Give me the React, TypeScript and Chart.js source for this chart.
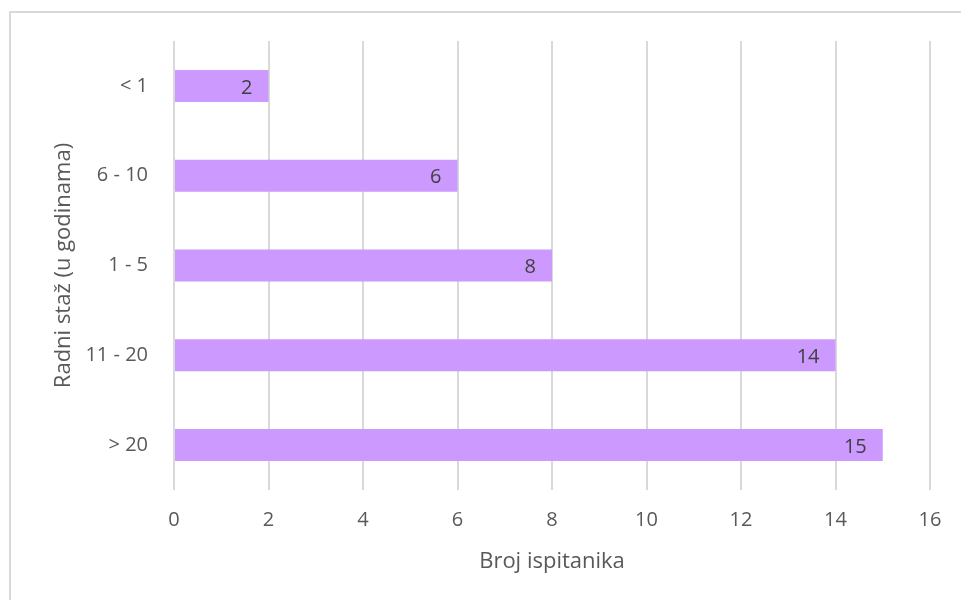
import React, { useEffect, useRef } from "react";
import { Chart, registerables } from "chart.js";

Chart.register(...registerables);

const categories = ["< 1", "6 - 10", "1 - 5", "11 - 20", "> 20"];
const values = [2, 6, 8, 14, 15];
const xTitle = "Broj ispitanika";
const yTitle = "Radni staž (u godinama)";

const FONT = "'Open Sans', 'Noto Sans', sans-serif";

const valueLabels = {
  id: "valueLabels",
  afterDatasetsDraw(chart: any) {
    const ctx = chart.ctx;
    const meta = chart.getDatasetMeta(0);
    ctx.save();
    ctx.fillStyle = "#404040";
    ctx.font = `20px ${FONT}`;
    ctx.textAlign = "right";
    ctx.textBaseline = "middle";
    meta.data.forEach((el: any, i: number) => {
      ctx.fillText(String(values[i]), el.x - 16, el.y + 2);
    });
    ctx.restore();
  },
};

export default function App() {
  const ref = useRef<HTMLCanvasElement>(null);
  useEffect(() => {
    if (!ref.current) return;
    const chart = new Chart(ref.current, {
      type: "bar",
      data: {
        labels: categories,
        datasets: [
          {
            data: values,
            backgroundColor: "#CC99FF",
            borderWidth: 0,
            categoryPercentage: 1,
            barPercentage: 0.356,
          },
        ],
      },
      options: {
        indexAxis: "y",
        responsive: false,
        animation: false,
        maintainAspectRatio: false,
        layout: { padding: { left: 0, top: 41, right: 31, bottom: 0 } },
        plugins: { legend: { display: false }, tooltip: { enabled: false } },
        scales: {
          x: {
            min: 0,
            max: 16,
            ticks: {
              stepSize: 2,
              color: "#595959",
              font: { family: FONT, size: 20 },
              padding: 18,
            },
            grid: { color: "#d9d9d9", lineWidth: 2, drawTicks: false },
            border: { display: false },
            title: {
              display: true,
              text: xTitle,
              color: "#595959",
              font: { family: FONT, size: 22 },
              padding: { top: 0, bottom: 25 },
            },
            afterFit(scale: any) {
              scale.height = 110;
            },
          },
          y: {
            ticks: {
              color: "#595959",
              font: { family: FONT, size: 20 },
              padding: 26,
            },
            grid: { display: false, drawTicks: false },
            border: { display: false },
            title: {
              display: true,
              text: yTitle,
              color: "#595959",
              font: { family: FONT, size: 22 },
              padding: { top: 51, bottom: 0 },
            },
            afterFit(scale: any) {
              scale.width = 174;
            },
          },
        },
      },
      plugins: [valueLabels],
    } as any);
    return () => chart.destroy();
  }, []);

  return (
    <div
      style={{
        position: "fixed",
        left: 0,
        top: 0,
        width: 961,
        height: 600,
        background: "#fff",
        overflow: "hidden",
      }}
    >
      <div
        style={{
          position: "absolute",
          left: 9,
          top: 11,
          width: 1200,
          height: 1200,
          border: "2px solid #d9d9d9",
          boxSizing: "border-box",
        }}
      />
      <canvas
        ref={ref}
        width={961}
        height={600}
        style={{ position: "absolute", left: 0, top: 0, width: 961, height: 600 }}
      />
    </div>
  );
}
